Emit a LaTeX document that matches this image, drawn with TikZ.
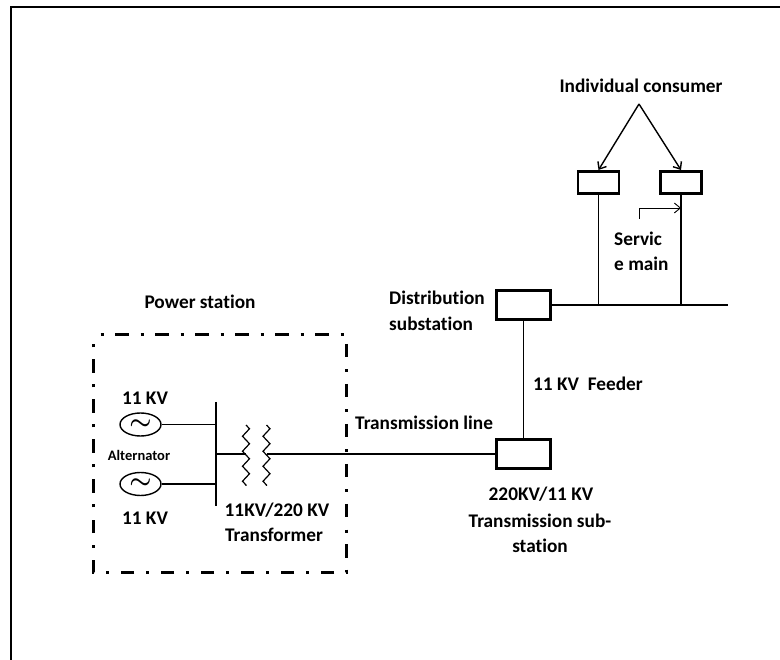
\documentclass[tikz,border=0pt]{standalone}
\usepackage{amsmath}
\usepackage{fontspec}
\setmainfont[Ligatures=CommonOff]{Carlito}
\usepackage{tikz}
\usetikzlibrary{arrows.meta, shapes, decorations.pathmorphing}
\tikzset{
		every node/.style={font=\bfseries\fontsize{19.3}{23}\selectfont, inner sep=0pt},
		station/.style={draw, line width=2.2pt, minimum width=54pt, minimum height=29pt},
		consumer/.style={draw, line width=2.2pt, minimum width=41pt, minimum height=22pt},
		alternator/.style={draw, ellipse, line width=1.4pt, minimum width=41pt, minimum height=23pt, font=\fontsize{26}{26}\selectfont},
		coil/.style={decorate, decoration={zigzag, segment length=15pt, amplitude=3.5pt}, line width=1.2pt},
		wire/.style={line width=1.4pt},
		boundary/.style={line width=3pt, dash pattern=on 13.5pt off 12pt on 3pt off 11.5pt, dash phase=18pt}
	}
\begin{document}
\begin{tikzpicture}[x=1pt, y=-1pt, >={Straight Barb[length=6pt,width=10pt]}]
				\useasboundingbox (0,0) rectangle (780,660);
				\draw[line width=2pt] (10.5,660) -- (10.5,7) -- (780,7);
				\draw[boundary] (93,335) -- (346,335) -- (346,572) -- (93,572) -- cycle;
				% power station
				\node[alternator] (g1) at (140.5,424.5) {$\boldsymbol{\sim}$};
				\node[alternator] (g2) at (140.5,484) {$\boldsymbol{\sim}$};
				\coordinate (bt) at (216,402);
				\coordinate (bb) at (216,506);
				\coordinate (b1) at (216,424.5);
				\coordinate (b2) at (216,484);
				\coordinate (bm) at (216,454);
				\coordinate (p1) at (246,425);
				\coordinate (p2) at (246,486);
				\coordinate (pm) at (246,454);
				\coordinate (s1) at (266.5,425);
				\coordinate (s2) at (266.5,486);
				\coordinate (sm) at (266.5,454);
				\draw[line width=1.4pt] (bt) -- (bb);
				\draw[wire] (g1) -- (b1);
				\draw[wire] (g2) -- (b2);
				\draw[wire] (bm) -- (pm);
				\draw[coil] (p1) -- (p2);
				\draw[coil] (s1) -- (s2);
				% substations
				\node[station] (ts) at (523.5,454) {};
				\node[station] (ds) at (523.5,305) {};
				\node[consumer] (c1) at (598.5,182.5) {};
				\node[consumer] (c2) at (681,182.5) {};
				\coordinate (le) at (728,305);
				\coordinate (j1) at (598.5,305);
				\coordinate (j2) at (681,305);
				\coordinate (top) at (639,104);
				\coordinate (sv) at (639,219);
				\coordinate (sh) at (681,208);
				\coordinate (a1) at (598.5,170);
				\coordinate (a2) at (681,170);
				\draw[wire] (sm) -- (ts);
				\draw[wire] (ts) -- (ds);
				\draw[wire] (ds) -- (le);
				\draw[wire] (c1) -- (j1);
				\draw[wire] (c2) -- (j2);
				\path[->, wire](top) edge (a1);
				\path[->, wire](top) edge (a2);
				\draw[->, line width=0.9pt] (sv) |- (sh);
				% labels
				\node (lic) at (641,86) {Individual consumer};
				\node[anchor=west] (lsa) at (614,239) {Servic};
				\node[anchor=west] (lsb) at (614,264) {e main};
				\node (lps) at (200,302) {Power station};
				\node[anchor=west] (lda) at (389,298) {Distribution};
				\node[anchor=west] (ldb) at (389,324) {substation};
				\node[anchor=west] (lfe) at (533,384) {11 KV\ \ Feeder};
				\node[anchor=west] (ltl) at (355,423) {Transmission line};
				\node (lta) at (541,494) {220KV/11 KV};
				\node (ltb) at (540,521) {Transmission sub-};
				\node (ltc) at (540,546) {station};
				\node (lv1) at (145,398) {11 KV};
				\node[font=\bfseries\fontsize{14.5}{17}\selectfont] (lal) at (139,455) {Alternator};
				\node (lv2) at (145,518) {11 KV};
				\node (lxa) at (277,510) {11KV/220 KV};
				\node (lxb) at (274,535) {Transformer};
			\end{tikzpicture}
\end{document}
